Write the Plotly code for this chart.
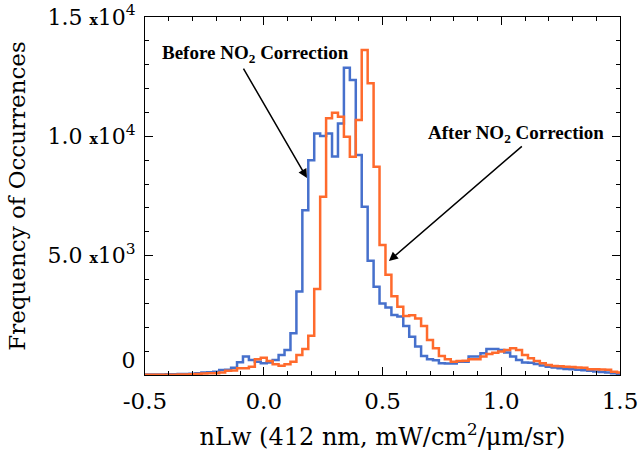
import numpy as np
import plotly.graph_objects as go

# Histogram bin centres (bin width 0.025)
bin_start = -0.5
bin_width = 0.025
n_bins = 81
bin_centers = np.round(bin_start + bin_width * np.arange(n_bins), 4)

before_counts = [
    20, 20, 20, 25, 30, 35, 40, 45, 55, 70,
    100, 110, 140, 210, 220, 300, 530, 770, 630, 560,
    490, 520, 630, 840, 1050, 1750, 3500, 6900, 9000, 10120,
    10010, 10120, 9150, 10540, 12870, 12360, 9220, 7050, 4790, 3700,
    3000, 2830, 2510, 2450, 2050, 1600, 1190, 800, 660, 620,
    490, 480, 480, 560, 560, 770, 770, 910, 1090, 1090,
    1050, 940, 770, 630, 520, 510, 460, 400, 350, 310,
    280, 250, 240, 220, 200, 180, 150, 130, 100, 70,
    40,
]

after_counts = [
    10, 10, 10, 10, 15, 15, 20, 25, 30, 40,
    60, 70, 70, 100, 180, 185, 280, 280, 350, 656,
    726, 590, 450, 390, 450, 560, 840, 1090, 1640, 3600,
    7470, 10760, 10990, 10820, 9985, 9146, 10684, 13616, 12220, 8727,
    5446, 4200, 3300, 2860, 2470, 2500, 2370, 2050, 1470, 1120,
    800, 660, 560, 590, 600, 656, 660, 770, 880, 936,
    980, 1050, 1120, 1050, 840, 700, 590, 490, 420, 380,
    370, 350, 340, 310, 300, 240, 240, 230, 220, 140,
    100,
]

y_tick_vals = [0, 5000, 10000, 15000]
y_tick_text = [
    "0<br> ",
    "5.0 <span style='font-size:14px'><b>x</b></span>10<sup>3</sup>",
    "1.0 <span style='font-size:14px'><b>x</b></span>10<sup>4</sup>",
    "1.5 <span style='font-size:14px'><b>x</b></span>10<sup>4</sup>",
]
x_tick_vals = [-0.5, 0.0, 0.5, 1.0, 1.5]
x_tick_text = ["-0.5", "0.0", "0.5", "1.0", "1.5"]

blue = "#4670CC"
orange = "#FF6A2C"
axis_font = "DejaVu Serif"
note_font = "Liberation Serif"

fig = go.Figure()
fig.add_trace(go.Scatter(
    x=bin_centers, y=before_counts, mode="lines",
    line=dict(color=blue, width=2.5, shape="hvh"),
    name="Before NO2 Correction", showlegend=False, cliponaxis=False,
))
fig.add_trace(go.Scatter(
    x=bin_centers, y=after_counts, mode="lines",
    line=dict(color=orange, width=2.5, shape="hvh"),
    name="After NO2 Correction", showlegend=False, cliponaxis=False,
))

fig.add_annotation(
    x=0.182, y=8250, ax=-0.089, ay=12900,
    xref="x", yref="y", axref="x", ayref="y",
    text="", showarrow=True, arrowhead=2, arrowsize=1.2, arrowwidth=1.5,
    arrowcolor="black",
)
fig.add_annotation(
    x=-0.034, y=13450, xref="x", yref="y",
    text="<b>Before NO<sub>2</sub> Correction</b>", showarrow=False,
    font=dict(family=note_font, size=19, color="black"),
)
fig.add_annotation(
    x=0.527, y=4776, ax=1.093, ay=9635,
    xref="x", yref="y", axref="x", ayref="y",
    text="", showarrow=True, arrowhead=2, arrowsize=1.2, arrowwidth=1.5,
    arrowcolor="black",
)
fig.add_annotation(
    x=1.064, y=10080, xref="x", yref="y",
    text="<b>After NO<sub>2</sub> Correction</b>", showarrow=False,
    font=dict(family=note_font, size=19, color="black"),
)

axis_common = dict(
    showline=True, linecolor="black", linewidth=1, mirror="ticks",
    ticks="inside", tickcolor="black", showgrid=False, zeroline=False,
    automargin=False, ticklabeloverflow="allow",
)

fig.update_xaxes(
    range=[-0.5, 1.5], tickvals=x_tick_vals, ticktext=x_tick_text,
    ticklen=8, tickwidth=1, ticklabelstandoff=5,
    minor=dict(ticks="inside", dtick=0.1, tick0=-0.5, ticklen=4, tickcolor="black", showgrid=False),
    title=dict(text="nLw (412 nm, mW/cm<sup>2</sup>/μm/sr)", font=dict(family=axis_font, size=24, color="black")),
    tickfont=dict(family=axis_font, size=23, color="black"),
    **axis_common,
)
fig.update_yaxes(
    range=[0, 15000], tickvals=y_tick_vals, ticktext=y_tick_text,
    ticklen=8, tickwidth=1, ticklabelstandoff=4,
    minor=dict(ticks="inside", dtick=1000, tick0=0, ticklen=4, tickcolor="black", showgrid=False),
    title=dict(text="Frequency of Occurrences", font=dict(family=axis_font, size=23, color="black")),
    tickfont=dict(family=axis_font, size=22, color="black"),
    **axis_common,
)

fig.update_layout(
    width=639, height=456,
    margin=dict(l=145, r=19, t=17, b=81),
    plot_bgcolor="white", paper_bgcolor="white",
    font=dict(family=axis_font, color="black"),
)

fig.write_html(
    "out.html",
    config={"displayModeBar": False},
    post_script="document.body.style.margin='0px';document.body.style.overflow='hidden';",
)
